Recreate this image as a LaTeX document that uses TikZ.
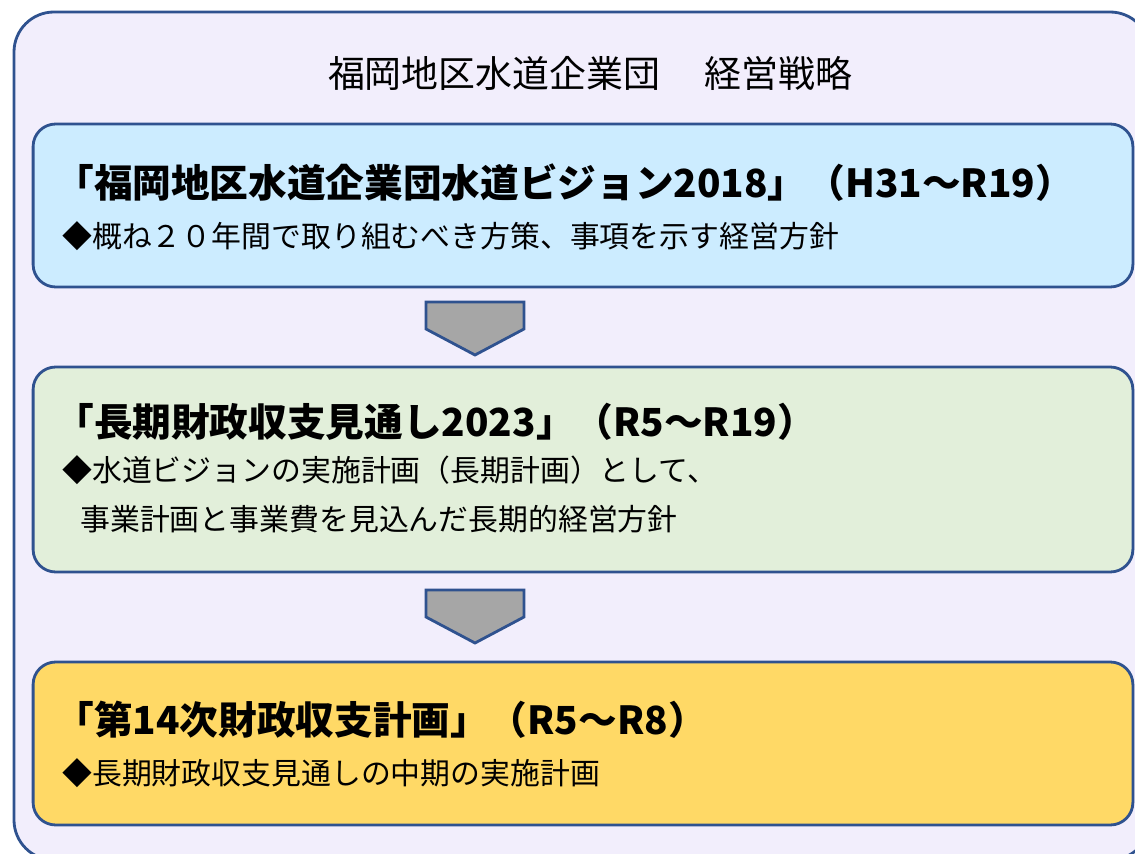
\documentclass[tikz,border=0pt]{standalone}
\usepackage{fontspec}
\setmainfont{Noto Sans CJK JP}
\definecolor{edge}{RGB}{47,82,143}
\definecolor{framefill}{RGB}{242,238,252}
\definecolor{visionfill}{RGB}{204,236,255}
\definecolor{outlookfill}{RGB}{226,239,218}
\definecolor{planfill}{RGB}{255,217,102}
\definecolor{arrowgray}{RGB}{166,166,166}
\tikzset{
    stage/.style={draw=edge, line width=1.6pt, rounded corners=0.45cm,
        minimum width=22cm, inner sep=0pt},
    head/.style={anchor=west, inner sep=0pt, font=\bfseries\fontsize{22}{26}\selectfont},
    note/.style={anchor=west, inner sep=0pt, font=\fontsize{17}{20}\selectfont},
    downarrow/.style={draw=edge, fill=arrowgray, line width=1.6pt}
}

\begin{document}
\begin{tikzpicture}[x=0.02cm, y=-0.02cm]
    \useasboundingbox (0,0) rectangle (1135,854);
    \clip (0,0) rectangle (1135,854);
    % Frame
    \draw[draw=edge, fill=framefill, line width=1.6pt, rounded corners=0.8cm]
        (14,12) rectangle (1150,860);
    \node[inner sep=0pt, font=\fontsize{21}{25}\selectfont] (title) at (590,73)
        {福岡地区水道企業団\hspace{1.2em}経営戦略};
    % Stages
    \node[stage, fill=visionfill, minimum height=3.26cm] (vision) at (583,205.5) {};
    \node[stage, fill=outlookfill, minimum height=4.1cm] (outlook) at (583,469.5) {};
    \node[stage, fill=planfill, minimum height=3.26cm] (plan) at (583,743.5) {};
    \foreach \t in {302,590}
        \draw[downarrow] (426,\t) -- (524,\t) -- (524,\t+27) -- (475,\t+53)
            -- (426,\t+27) -- cycle;
    % Texts
    \node[head] (visionhead) at (55,183) {「福岡地区水道企業団水道ビジョン2018」（H31～R19）};
    \node[note] (visionnote) at (62,236) {◆概ね２０年間で取り組むべき方策、事項を示す経営方針};
    \node[head] (outlookhead) at (55,422) {「長期財政収支見通し2023」（R5～R19）};
    \node[note] (outlooknote) at (62,470) {◆水道ビジョンの実施計画（長期計画）として、};
    \node[note] (outlooknotetwo) at (80,519) {事業計画と事業費を見込んだ長期的経営方針};
    \node[head] (planhead) at (55,720) {「第14次財政収支計画」（R5～R8）};
    \node[note] (plannote) at (62,773) {◆長期財政収支見通しの中期の実施計画};
\end{tikzpicture}
\end{document}
